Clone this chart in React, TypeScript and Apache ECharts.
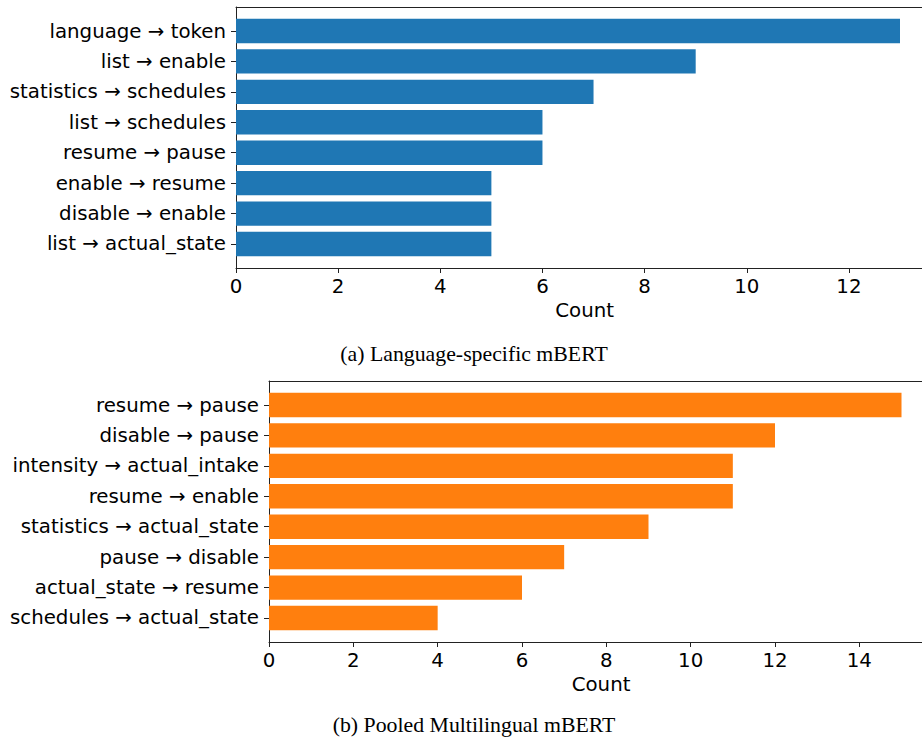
import React, { useEffect, useRef } from "react";
import * as echarts from "echarts";

const topLabels = [
  "language → token",
  "list → enable",
  "statistics → schedules",
  "list → schedules",
  "resume → pause",
  "enable → resume",
  "disable → enable",
  "list → actual_state",
];
const topCounts = [13, 9, 7, 6, 6, 5, 5, 5];

const bottomLabels = [
  "resume → pause",
  "disable → pause",
  "intensity → actual_intake",
  "resume → enable",
  "statistics → actual_state",
  "pause → disable",
  "actual_state → resume",
  "schedules → actual_state",
];
const bottomCounts = [15, 12, 11, 11, 9, 7, 6, 4];

const topCaption = "(a) Language-specific mBERT";
const bottomCaption = "(b) Pooled Multilingual mBERT";
const xName = "Count";

const FONT = "DejaVu Sans";
const FS = 19.8;
const SPINE = "#222";

function panel(
  gBase: number,
  xBase: number,
  yBase: number,
  frame: { left: number; top: number; width: number; height: number },
  labels: string[],
  counts: number[],
  color: string
) {
  const n = labels.length;
  const maxV = Math.max(...counts);
  const xmax = maxV * 1.05;
  const ySpan = n - 1 + 0.8;
  const yLo = -0.4 - 0.05 * ySpan;
  const yHi = n - 1 + 0.4 + 0.05 * ySpan;
  const pxPerUnit = frame.height / (yHi - yLo);
  const barTop = frame.top + (yHi - (n - 0.5)) * pxPerUnit;
  const barHeight = n * pxPerUnit;

  const grids = [
    { left: frame.left, top: frame.top, width: frame.width, height: frame.height, outerBoundsMode: "none" },
    { left: frame.left, top: barTop, width: frame.width, height: barHeight, outerBoundsMode: "none" },
  ];
  const xAxes = [
    {
      type: "value",
      gridIndex: gBase,
      min: 0,
      max: xmax,
      interval: 2,
      position: "bottom",
      splitLine: { show: false },
      axisLine: { show: true, lineStyle: { color: SPINE, width: 1 } },
      axisTick: { show: true, length: 5, lineStyle: { color: SPINE } },
      axisLabel: {
        show: true,
        margin: 8,
        fontSize: FS,
        color: "#000",
        fontFamily: FONT,
        formatter: (v: number) => (Math.abs(v % 2) < 1e-9 ? String(v) : ""),
      },
      name: xName,
      nameLocation: "middle",
      nameGap: 32,
      nameTextStyle: { fontSize: FS, color: "#000", fontFamily: FONT },
    },
    {
      type: "value",
      gridIndex: gBase,
      min: 0,
      max: xmax,
      position: "top",
      splitLine: { show: false },
      axisLine: { show: true, lineStyle: { color: SPINE, width: 1 } },
      axisTick: { show: false },
      axisLabel: { show: false },
    },
    {
      type: "value",
      gridIndex: gBase + 1,
      min: 0,
      max: xmax,
      show: false,
      splitLine: { show: false },
    },
  ];
  const yAxes = [
    {
      type: "value",
      gridIndex: gBase,
      min: 0,
      max: 1,
      splitLine: { show: false },
      axisLine: { show: true, onZero: false, lineStyle: { color: SPINE, width: 1 } },
      axisTick: { show: false },
      axisLabel: { show: false },
    },
    {
      type: "category",
      gridIndex: gBase + 1,
      data: labels,
      inverse: true,
      axisLine: { show: false },
      axisTick: { show: true, alignWithLabel: true, length: 5, lineStyle: { color: SPINE } },
      axisLabel: { fontSize: FS, color: "#000", fontFamily: FONT, margin: 10 },
      splitLine: { show: false },
    },
  ];
  const series = [
    {
      type: "bar",
      xAxisIndex: xBase + 2,
      yAxisIndex: yBase + 1,
      data: counts,
      barCategoryGap: "20%",
      itemStyle: { color },
      silent: true,
    },
  ];
  return { grids, xAxes, yAxes, series };
}

export default function App() {
  const ref = useRef<HTMLDivElement>(null);
  useEffect(() => {
    if (!ref.current) return;
    const chart = echarts.init(ref.current, undefined, { renderer: "svg" });
    const topXmax = Math.max(...topCounts) * 1.05;
    const botXmax = Math.max(...bottomCounts) * 1.05;
    const p1 = panel(
      0, 0, 0,
      { left: 236, top: 7, width: (664 / 13) * topXmax, height: 261 },
      topLabels, topCounts, "#1f77b4"
    );
    const p2 = panel(
      2, 3, 2,
      { left: 269, top: 381, width: (632.5 / 15) * botXmax, height: 261 },
      bottomLabels, bottomCounts, "#ff7f0e"
    );
    chart.setOption({
      animation: false,
      backgroundColor: "#fff",
      textStyle: { fontFamily: FONT },
      grid: [...p1.grids, ...p2.grids],
      xAxis: [...p1.xAxes, ...p2.xAxes],
      yAxis: [...p1.yAxes, ...p2.yAxes],
      series: [...p1.series, ...p2.series],
      graphic: [
        {
          type: "text",
          x: 474,
          y: 354,
          style: {
            text: topCaption,
            fontFamily: "Liberation Serif",
            fontSize: 21.8,
            fill: "#000",
            align: "center",
            verticalAlign: "middle",
          },
        },
        {
          type: "text",
          x: 474,
          y: 725,
          style: {
            text: bottomCaption,
            fontFamily: "Liberation Serif",
            fontSize: 21.8,
            fill: "#000",
            align: "center",
            verticalAlign: "middle",
          },
        },
      ],
    });
    return () => chart.dispose();
  }, []);
  return (
    <div
      ref={ref}
      style={{ position: "absolute", left: 0, top: 0, width: 922, height: 743 }}
    />
  );
}
